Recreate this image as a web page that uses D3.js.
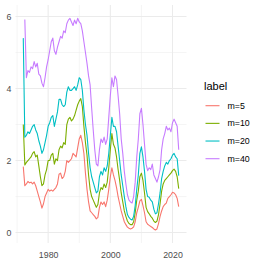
<!DOCTYPE html>
<html><head><meta charset="utf-8">
<script src="https://cdn.jsdelivr.net/npm/d3@7"></script>
<style>body{margin:0;background:#fff}svg{display:block}</style>
</head><body>
<svg id="c" width="263" height="263"></svg>
<script>
const years = [
1972.0,1972.5,1973.0,1973.5,1974.0,1974.5,1975.0,1975.5,1976.0,1976.5,
1977.0,1977.5,1978.0,1978.5,1979.0,1979.5,1980.0,1980.5,1981.0,1981.5,
1982.0,1982.5,1983.0,1983.5,1984.0,1984.5,1985.0,1985.5,1986.0,1986.5,
1987.0,1987.5,1988.0,1988.5,1989.0,1989.5,1990.0,1990.5,1991.0,1991.5,
1992.0,1992.5,1993.0,1993.5,1994.0,1994.5,1995.0,1995.5,1996.0,1996.5,
1997.0,1997.5,1998.0,1998.5,1999.0,1999.5,2000.0,2000.5,2001.0,2001.5,
2002.0,2002.5,2003.0,2003.5,2004.0,2004.5,2005.0,2005.5,2006.0,2006.5,
2007.0,2007.5,2008.0,2008.5,2009.0,2009.5,2010.0,2010.5,2011.0,2011.5,
2012.0,2012.5,2013.0,2013.5,2014.0,2014.5,2015.0,2015.5,2016.0,2016.5,
2017.0,2017.5,2018.0,2018.5,2019.0,2019.5,2020.0,2020.5,2021.0,2021.5,
2022.0];

const m5 = [
1.83,1.30,1.35,1.42,1.38,1.40,1.35,1.40,1.30,1.15,
1.00,0.85,0.68,0.80,1.00,1.10,1.20,1.15,1.18,1.15,
1.20,1.25,1.35,1.62,1.65,1.50,1.55,1.70,2.00,1.95,
2.00,2.05,2.20,2.15,2.10,2.35,2.60,2.70,2.50,2.20,
1.65,1.20,0.85,0.60,0.55,0.50,0.45,0.38,0.42,0.70,
0.85,0.78,0.85,0.72,0.90,1.20,1.55,1.80,1.60,1.45,
1.25,1.00,0.80,0.60,0.45,0.30,0.22,0.15,0.12,0.10,
0.12,0.16,0.30,0.55,0.70,0.88,0.92,0.75,0.55,0.30,
0.23,0.20,0.17,0.14,0.10,0.07,0.10,0.25,0.45,0.60,
0.72,0.78,0.82,0.95,1.00,1.05,1.12,1.10,1.05,0.95,
0.72];

const m10 = [
3.00,1.88,1.95,2.00,2.05,2.10,2.20,2.25,2.10,2.15,
1.85,1.55,1.30,1.35,1.60,1.75,2.00,2.00,2.15,2.20,
1.90,2.05,2.00,2.30,2.40,2.35,2.50,2.45,3.00,3.15,
3.20,3.10,3.15,3.25,3.40,3.55,3.65,3.72,3.50,2.95,
2.50,2.15,1.60,1.20,1.00,0.90,0.80,0.70,0.78,1.10,
1.25,1.20,1.35,1.25,1.40,1.80,2.30,2.75,2.45,2.35,
2.10,1.75,1.45,1.10,0.85,0.60,0.45,0.32,0.25,0.22,
0.22,0.30,0.55,0.90,1.15,1.55,1.65,1.45,1.10,0.70,
0.58,0.52,0.45,0.40,0.32,0.28,0.32,0.50,0.80,1.15,
1.35,1.45,1.50,1.55,1.60,1.65,1.72,1.76,1.70,1.55,
1.22];

const m20 = [
5.40,2.65,2.70,2.80,2.75,2.85,2.95,3.00,2.85,2.75,
2.55,2.40,2.20,2.30,2.50,2.70,2.95,3.05,3.20,3.25,
2.95,3.15,3.35,3.70,3.70,3.55,3.50,3.55,3.90,4.05,
3.95,3.95,4.00,4.05,3.95,4.10,4.30,4.25,3.95,3.40,
3.00,2.70,2.20,1.80,1.55,1.40,1.25,1.10,1.15,1.55,
1.70,1.60,1.80,1.70,1.85,2.20,2.70,3.20,2.95,2.95,
2.80,2.40,2.00,1.60,1.30,1.00,0.72,0.50,0.42,0.37,
0.35,0.45,0.75,1.20,1.60,2.20,2.38,2.10,1.70,1.20,
1.00,0.98,0.90,0.85,0.65,0.52,0.55,0.80,1.10,1.50,
1.70,1.85,1.95,1.90,2.00,2.05,2.15,2.20,2.10,2.05,
1.58];

const m40 = [
null,5.92,4.30,4.50,4.45,4.60,4.55,4.75,4.60,4.70,
4.40,4.35,4.15,4.05,4.30,4.60,4.80,5.05,5.30,5.40,
5.05,4.95,5.15,5.30,5.45,5.40,5.60,5.55,5.80,5.90,
5.95,5.85,5.75,5.90,5.80,5.95,5.85,5.80,5.60,5.30,
5.00,4.70,4.35,4.10,3.45,2.85,2.30,1.90,1.85,2.30,
2.60,2.50,2.65,2.45,2.60,3.20,3.80,4.30,4.05,4.35,
4.25,3.80,3.30,2.60,2.20,1.70,1.35,1.05,0.90,0.85,
0.82,1.00,1.40,2.10,2.60,3.30,3.45,3.00,2.45,1.90,
1.72,1.80,1.75,1.90,1.60,1.50,1.40,1.55,1.75,2.30,
2.60,2.75,2.95,2.85,2.90,2.80,3.05,3.15,3.05,2.95,
2.30];

const labels = ["m=5","m=10","m=20","m=40"];
const colors = ["#F8766D","#7CAE00","#00BFC4","#C77CFF"];
const xTicks = [1980, 2000, 2020];
const xMinor = [1970, 1990, 2010];
const yTicks = [0, 2, 4, 6];
const yMinor = [1, 3, 5];

const seriesVals = [m5, m10, m20, m40];

const svg = d3.select("#c");
const P = {l: 15.5, r: 186.5, t: 5, b: 243};

const x = d3.scaleLinear().domain([1969.5, 2024.5]).range([P.l, P.r]);
const y = d3.scaleLinear().domain([-0.29, 6.32]).range([P.b, P.t]);

const grid = svg.append("g");
yMinor.forEach(v => grid.append("line").attr("x1",P.l).attr("x2",P.r).attr("y1",y(v)).attr("y2",y(v)).attr("stroke","#EBEBEB").attr("stroke-width",0.55));
xMinor.forEach(v => { if (x(v) >= P.l) grid.append("line").attr("y1",P.t).attr("y2",P.b).attr("x1",x(v)).attr("x2",x(v)).attr("stroke","#EBEBEB").attr("stroke-width",0.55); });
yTicks.forEach(v => grid.append("line").attr("x1",P.l).attr("x2",P.r).attr("y1",y(v)).attr("y2",y(v)).attr("stroke","#EBEBEB").attr("stroke-width",1.07));
xTicks.forEach(v => grid.append("line").attr("y1",P.t).attr("y2",P.b).attr("x1",x(v)).attr("x2",x(v)).attr("stroke","#EBEBEB").attr("stroke-width",1.07));

const line = d3.line().defined(d => d[1] != null).x(d => x(d[0])).y(d => y(d[1]));
seriesVals.forEach((vals, i) => {
  const pts = years.map((yr, j) => [yr, vals[j]]);
  svg.append("path").datum(pts).attr("d", line).attr("fill","none")
    .attr("stroke", colors[i]).attr("stroke-width", 1.1).attr("stroke-linejoin","round");
});

const font = "Liberation Sans, Arial, sans-serif";
const xa = svg.append("g").attr("transform", `translate(0,${P.b})`)
  .call(d3.axisBottom(x).tickValues(xTicks).tickFormat(d3.format("d")).tickSize(0).tickPadding(9));
xa.select(".domain").remove();
xa.selectAll("text").attr("font-family", font).attr("font-size", 8.8).attr("fill","#4D4D4D");

const ya = svg.append("g").attr("transform", `translate(${P.l},0)`)
  .call(d3.axisLeft(y).tickValues(yTicks).tickFormat(d3.format("d")).tickSize(0).tickPadding(4));
ya.select(".domain").remove();
ya.selectAll("text").attr("font-family", font).attr("font-size", 8.8).attr("fill","#4D4D4D");

const lg = svg.append("g");
lg.append("text").attr("x", 204).attr("y", 90).text("label")
  .attr("font-family", font).attr("font-size", 11).attr("fill","#000");
const keyY = d3.scalePoint().domain(labels).range([105.7, 158.7]);
labels.forEach((lab, i) => {
  lg.append("line").attr("x1", 205.5).attr("x2", 219.5).attr("y1", keyY(lab)).attr("y2", keyY(lab))
    .attr("stroke", colors[i]).attr("stroke-width", 1.1);
  lg.append("text").attr("x", 227.5).attr("y", keyY(lab)).attr("dy","0.35em").text(lab)
    .attr("font-family", font).attr("font-size", 8.8).attr("fill","#000");
});
</script>
</body></html>
